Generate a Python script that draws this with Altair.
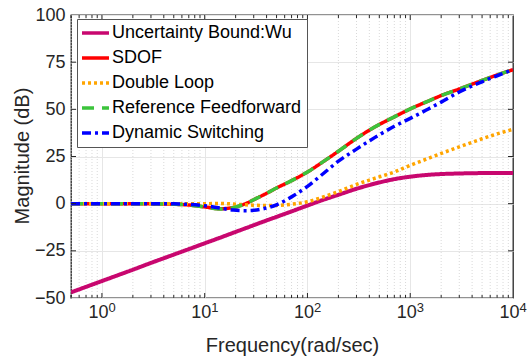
import altair as alt
import pandas as pd

# Frequency grid (rad/s) shared by all magnitude curves
freq = [0.5, 0.7, 1, 1.5, 2, 3, 5, 7, 10, 14, 19, 25, 30, 40, 50, 70, 100,
        140, 200, 300, 450, 700, 1000, 1500, 2000, 3000, 5000, 7000, 10000]

# Magnitude responses in dB
wu_bound = [-47.0, -44.1, -41.0, -37.5, -35.0, -31.4, -27.0, -24.1, -21.0, -18.1,
            -15.4, -13.0, -11.4, -8.9, -7.0, -4.1, -1.0, 1.9, 4.7, 7.9, 10.6,
            13.0, 14.3, 15.3, 15.7, 16.0, 16.2, 16.2, 16.3]
sdof = [0.0, 0.0, 0.0, 0.0, 0.0, -0.1, -0.3, -0.7, -1.7, -2.7, -2.0, 0.0, 2.1,
        5.5, 8.3, 12.2, 16.8, 22.0, 27.8, 34.6, 40.6, 46.0, 50.2, 54.4, 57.3,
        60.8, 65.3, 68.2, 71.0]
double_loop = [0.0, 0.0, 0.0, 0.0, 0.0, 0.0, 0.0, 0.0, 0.0, 0.1, -0.2, -0.6,
               -0.8, -1.0, -0.9, -0.3, 1.0, 3.4, 6.4, 10.2, 13.4, 16.8, 20.3,
               24.0, 26.6, 30.1, 34.4, 37.0, 39.4]
ref_ff = [0.0, 0.0, 0.0, 0.0, 0.0, -0.1, -0.3, -0.7, -1.8, -2.8, -2.1, 0.0, 2.1,
          5.5, 8.3, 12.2, 16.8, 22.0, 27.8, 34.6, 40.6, 46.0, 50.2, 54.4, 57.3,
          60.8, 65.3, 68.2, 71.0]
dyn_switch = [0.0, 0.0, 0.0, 0.0, 0.0, 0.0, -0.1, -0.4, -1.1, -2.3, -3.4, -3.7,
              -3.5, -2.3, -0.6, 3.6, 9.2, 15.6, 22.5, 28.9, 35.0, 41.0, 45.2,
              50.2, 53.8, 59.2, 64.6, 67.8, 71.0]

names = ["Uncertainty Bound:Wu", "SDOF", "Double Loop",
         "Reference Feedforward", "Dynamic Switching"]
series = [wu_bound, sdof, double_loop, ref_ff, dyn_switch]
colors = ["#C8076F", "#FF0000", "#FFA500", "#3CC43C", "#0000FF"]
dashes = [[1, 0], [1, 0], [3, 3], [12, 8], [9, 4, 3, 4]]
widths = [4, 3.5, 3.5, 3.5, 3.5]

# Axis decorations
decades = [1, 10, 100, 1000, 10000]
exponents = ["0", "1", "2", "3", "4"]
minor_freq = [0.5, 0.6, 0.7, 0.8, 0.9,
              2, 3, 4, 5, 6, 7, 8, 9,
              20, 30, 40, 50, 60, 70, 80, 90,
              200, 300, 400, 500, 600, 700, 800, 900,
              2000, 3000, 4000, 5000, 6000, 7000, 8000, 9000]
y_ticks = [-50, -25, 0, 25, 50, 75, 100]

W, H = 442, 283
FONT = "Liberation Sans"
INK = "#262626"

rows = []
for name, vals in zip(names, series):
    for w, v in zip(freq, vals):
        rows.append({"w": w, "db": v, "series": name})
df = pd.DataFrame(rows)

X = alt.X("w:Q",
          scale=alt.Scale(type="log", domain=[0.5, 10000], nice=False),
          axis=alt.Axis(values=[1, 10, 100, 1000], grid=True, gridColor="#e6e6e6",
                        labels=False, ticks=False, domain=False,
                        title="Frequency(rad/sec)", titleFont=FONT,
                        titleFontSize=20, titleFontWeight="normal",
                        titleColor=INK, titleY=53, titleBaseline="alphabetic"))
Y = alt.Y("db:Q",
          scale=alt.Scale(domain=[-50, 100], nice=False),
          axis=alt.Axis(values=y_ticks, grid=True, gridColor="#e6e6e6",
                        ticks=False, domain=False, labelPadding=6,
                        labelFont=FONT, labelFontSize=18, labelColor=INK,
                        labelFlush=False, labelOverlap=False,
                        title="Magnitude (dB)", titleFont=FONT,
                        titleFontSize=20, titleFontWeight="normal",
                        titleColor=INK, titleX=-43, titleY=H / 2 - 1,
                        titleAngle=270, titleAlign="center",
                        titleBaseline="alphabetic"))

legend = alt.Legend(title=None, orient="none", legendX=6, legendY=4,
                    fillColor="white", strokeColor="#555555", padding=5,
                    symbolType="M-2,0H2", symbolSize=182, symbolStrokeWidth=3.5,
                    symbolOffset=4.5, labelOffset=7.5, rowPadding=7,
                    labelFont=FONT, labelFontSize=18, labelColor="black",
                    labelLimit=400,
                    labelExpr="datum.label + '" + "\u00a0" * 3 + "'")
color = alt.Color("series:N", scale=alt.Scale(domain=names, range=colors),
                  legend=legend)
stroke_dash = alt.StrokeDash("series:N",
                             scale=alt.Scale(domain=names, range=dashes),
                             legend=legend)

# Dotted minor grid
minor_grid = alt.Chart(pd.DataFrame({"w": minor_freq})).mark_rule(
    color="#d9d9d9", strokeDash=[1, 2], strokeWidth=1
).encode(x=X, y=alt.value(0), y2=alt.value(H))

# Magnitude curves, drawn in legend order
lines = []
for name, wdt in zip(names, widths):
    lines.append(
        alt.Chart(df).transform_filter(alt.datum.series == name)
        .mark_line(strokeWidth=wdt, interpolate="monotone", clip=True)
        .encode(x=X, y=Y, color=color, strokeDash=stroke_dash,
                order=alt.Order("w:Q"))
    )

# Inward tick marks on all four sides
dec_df = pd.DataFrame({"w": decades[:-1]})
min_df = pd.DataFrame({"w": minor_freq})
yt_df = pd.DataFrame({"db": y_ticks[1:-1]})
tick_style = dict(color=INK, strokeWidth=1)
ticks = [
    alt.Chart(dec_df).mark_rule(**tick_style).encode(x=X, y=alt.value(H), y2=alt.value(H - 5)),
    alt.Chart(dec_df).mark_rule(**tick_style).encode(x=X, y=alt.value(0), y2=alt.value(5)),
    alt.Chart(min_df).mark_rule(**tick_style).encode(x=X, y=alt.value(H), y2=alt.value(H - 3)),
    alt.Chart(min_df).mark_rule(**tick_style).encode(x=X, y=alt.value(0), y2=alt.value(3)),
    alt.Chart(yt_df).mark_rule(**tick_style).encode(y=Y, x=alt.value(0), x2=alt.value(5)),
    alt.Chart(yt_df).mark_rule(**tick_style).encode(y=Y, x=alt.value(W), x2=alt.value(W - 5)),
]

# Power-of-ten tick labels with superscript exponents
lab_df = pd.DataFrame({"w": decades, "base": ["10"] * len(decades), "exp": exponents})
base_labels = alt.Chart(lab_df).mark_text(
    font=FONT, fontSize=18, color=INK, align="center", baseline="alphabetic", dx=-3.5
).encode(x=X, y=alt.value(H + 20), text="base:N")
exp_labels = alt.Chart(lab_df).mark_text(
    font=FONT, fontSize=13, color=INK, align="left", baseline="alphabetic", dx=6.5
).encode(x=X, y=alt.value(H + 14), text="exp:N")

chart = alt.layer(minor_grid, *lines, *ticks, base_labels, exp_labels).properties(
    width=W, height=H,
    padding={"left": 71, "top": 15, "right": 19, "bottom": 58},
    autosize=alt.AutoSizeParams(type="none"),
    background="white",
).configure_view(stroke=INK, strokeWidth=1.3)

chart.save("out.html", embed_options={"renderer": "svg", "actions": False})
